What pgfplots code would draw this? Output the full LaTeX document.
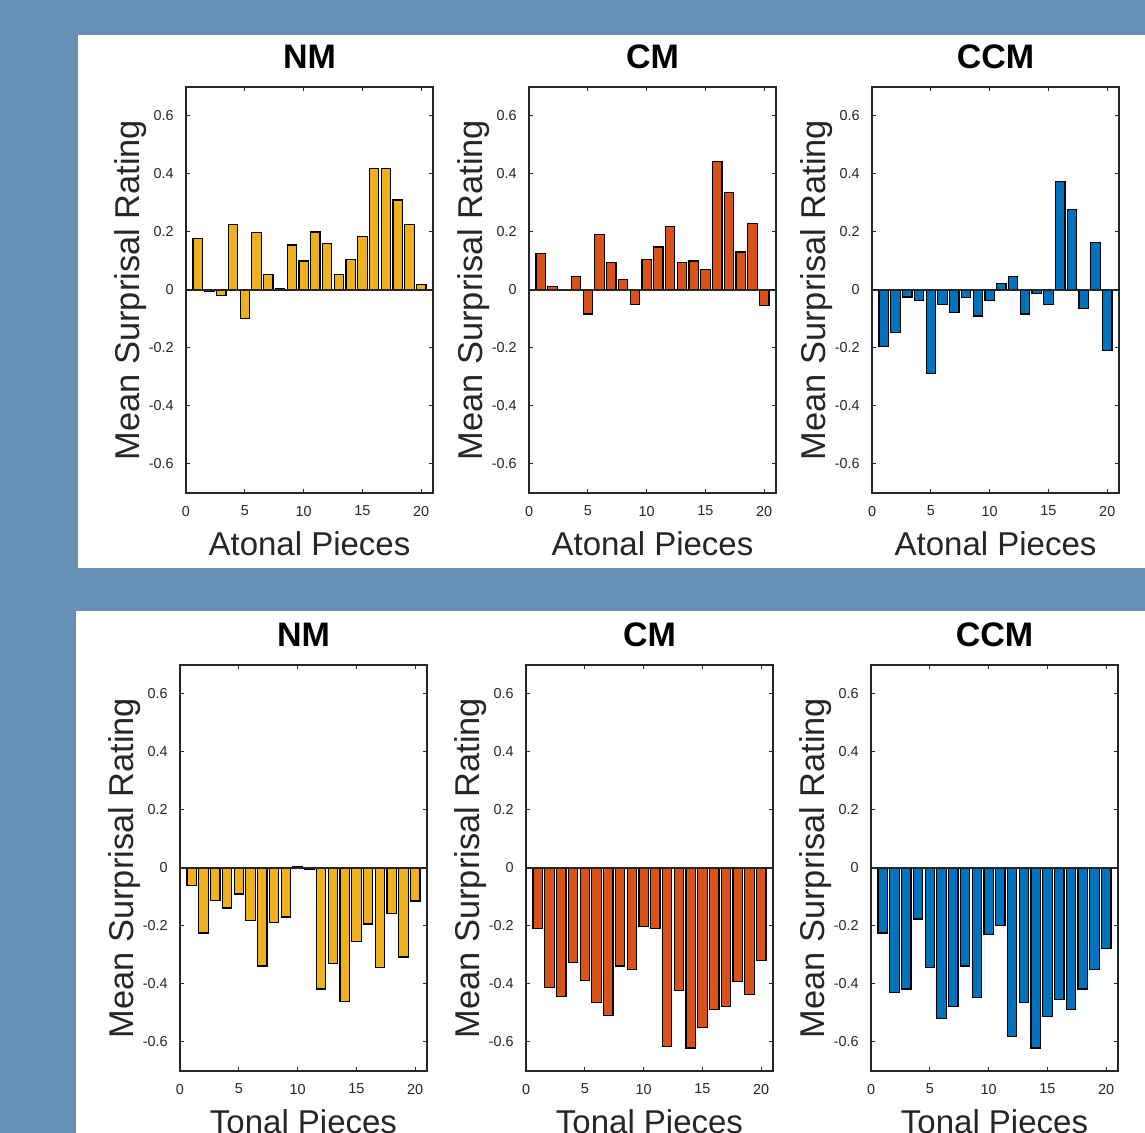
\documentclass[border=0pt]{standalone}
\usepackage{fontspec}
\setmainfont{Liberation Sans}
\usepackage{pgfplots}
\usepackage{pgfplotstable}
\pgfplotsset{compat=1.18}

\definecolor{bgblue}{RGB}{104,144,181}
\definecolor{myellow}{RGB}{237,177,32}
\definecolor{morange}{RGB}{217,83,25}
\definecolor{mblue}{RGB}{0,114,189}
\definecolor{axgray}{gray}{0.15}

% mean surprisal per piece: atonal (A) and tonal (T) for NM, CM, CCM
\pgfplotstableread{
x  nmA    cmA    ccmA   nmT    cmT    ccmT
1  0.177  0.126 -0.196 -0.060 -0.210 -0.224
2 -0.005  0.011 -0.148 -0.224 -0.412 -0.428
3 -0.020  0.000 -0.024 -0.113 -0.442 -0.417
4  0.226  0.047 -0.035 -0.138 -0.325 -0.176
5 -0.099 -0.083 -0.287 -0.090 -0.387 -0.344
6  0.197  0.190 -0.049 -0.181 -0.465 -0.519
7  0.053  0.094 -0.077 -0.338 -0.509 -0.477
8  0.005  0.036 -0.025 -0.187 -0.338 -0.338
9  0.155 -0.049 -0.090 -0.169 -0.349 -0.447
10 0.100  0.106 -0.035  0.004 -0.203 -0.229
11 0.200  0.148  0.023 -0.004 -0.210 -0.199
12 0.160  0.220  0.047 -0.417 -0.615 -0.580
13 0.052  0.094 -0.083 -0.330 -0.422 -0.465
14 0.106  0.100 -0.011 -0.459 -0.621 -0.621
15 0.184  0.070 -0.049 -0.254 -0.549 -0.513
16 0.420  0.444  0.374 -0.193 -0.489 -0.453
17 0.420  0.337  0.278 -0.344 -0.477 -0.489
18 0.310  0.131 -0.065 -0.156 -0.392 -0.417
19 0.226  0.230  0.165 -0.307 -0.435 -0.349
20 0.018 -0.053 -0.209 -0.114 -0.320 -0.277
}\surprisal

\pgfplotsset{
  surpanel/.style={
    scale only axis, width=123.5pt, height=203pt, anchor=south west,
    xmin=0, xmax=21, ymin=-0.7, ymax=0.7,
    ybar, bar width=0.8,
    xtick={0,5,10,15,20}, xticklabels={0,5,10,15,20},
    ytick={-0.6,-0.4,-0.2,0,0.2,0.4,0.6},
    yticklabels={-0.6,-0.4,-0.2,0,0.2,0.4,0.6},
    xtick align=inside, ytick align=inside, tick pos=both,
    major tick length=2.2pt,
    axis line style={axgray, line width=0.6pt},
    every tick/.append style={axgray, line width=0.5pt},
    tick label style={font=\fontsize{7.2}{8}\selectfont, text=axgray},
    xticklabel style={yshift=-3pt},
    yticklabel style={xshift=-2.6pt},
    ylabel={Mean Surprisal Rating},
    ylabel style={at={(axis description cs:-0.19,0.5)}, anchor=base,
      font=\fontsize{17.2}{18}\selectfont, text=axgray},
    xlabel style={at={(axis description cs:0.5,0)}, anchor=base, yshift=-31.5pt,
      font=\fontsize{16.5}{18}\selectfont, text=axgray},
    title style={at={(axis description cs:0.5,1)}, anchor=base, yshift=3pt,
      font=\bfseries\fontsize{17}{18}\selectfont},
  },
}

\begin{document}
\begin{tikzpicture}
\useasboundingbox (0,0) rectangle (572.5pt,566.5pt);
\clip (0,0) rectangle (572.5pt,566.5pt);
\fill[bgblue] (0,0) rectangle (572.5pt,566.5pt);
\fill[white] (39pt,282.5pt) rectangle (572.5pt,549pt);
\fill[white] (38pt,0pt) rectangle (572.5pt,261pt);

% atonal row
\begin{axis}[surpanel, at={(93pt,320pt)}, title={NM}, xlabel={Atonal Pieces}]
  \addplot[draw=black, line width=0.6pt, fill=myellow] table[x=x, y=nmA] {\surprisal};
  \draw[axgray, line width=0.6pt] (axis cs:0,0) -- (axis cs:21,0);
\end{axis}
\begin{axis}[surpanel, at={(264.5pt,320pt)}, title={CM}, xlabel={Atonal Pieces}]
  \addplot[draw=black, line width=0.6pt, fill=morange] table[x=x, y=cmA] {\surprisal};
  \draw[axgray, line width=0.6pt] (axis cs:0,0) -- (axis cs:21,0);
\end{axis}
\begin{axis}[surpanel, at={(436pt,320pt)}, title={CCM}, xlabel={Atonal Pieces}]
  \addplot[draw=black, line width=0.6pt, fill=mblue] table[x=x, y=ccmA] {\surprisal};
  \draw[axgray, line width=0.6pt] (axis cs:0,0) -- (axis cs:21,0);
\end{axis}

% tonal row
\begin{axis}[surpanel, at={(90pt,31pt)}, title={NM}, xlabel={Tonal Pieces}]
  \addplot[draw=black, line width=0.6pt, fill=myellow] table[x=x, y=nmT] {\surprisal};
  \draw[axgray, line width=0.6pt] (axis cs:0,0) -- (axis cs:21,0);
\end{axis}
\begin{axis}[surpanel, at={(263pt,31pt)}, title={CM}, xlabel={Tonal Pieces}]
  \addplot[draw=black, line width=0.6pt, fill=morange] table[x=x, y=cmT] {\surprisal};
  \draw[axgray, line width=0.6pt] (axis cs:0,0) -- (axis cs:21,0);
\end{axis}
\begin{axis}[surpanel, at={(435.5pt,31pt)}, title={CCM}, xlabel={Tonal Pieces}]
  \addplot[draw=black, line width=0.6pt, fill=mblue] table[x=x, y=ccmT] {\surprisal};
  \draw[axgray, line width=0.6pt] (axis cs:0,0) -- (axis cs:21,0);
\end{axis}
\end{tikzpicture}
\end{document}
